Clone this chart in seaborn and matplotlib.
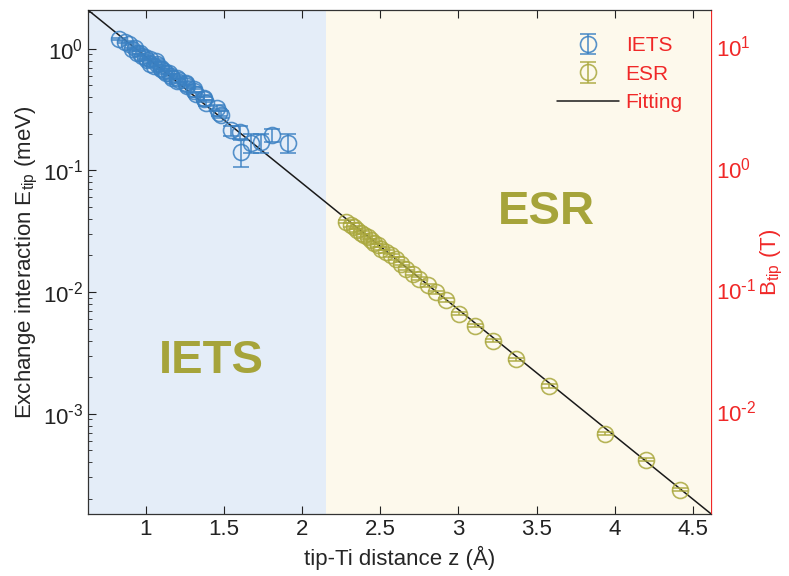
import numpy as np
import pandas as pd
import matplotlib
matplotlib.use("Agg")
import matplotlib.pyplot as plt
import seaborn as sns
from matplotlib.ticker import LogLocator, NullFormatter, FixedLocator, FuncFormatter

# ---------------- data ----------------
iets_z = [0.827, 0.865, 0.891, 0.912, 0.929, 0.944, 0.962, 0.976, 0.998, 1.008,
          1.030, 1.030, 1.062, 1.051, 1.071, 1.094, 1.094, 1.115, 1.126, 1.147,
          1.158, 1.169, 1.201, 1.201, 1.215, 1.254, 1.254, 1.265, 1.308, 1.308,
          1.319, 1.372, 1.372, 1.383, 1.457, 1.468, 1.479,
          1.543, 1.600, 1.607, 1.671, 1.735, 1.810, 1.910]
iets_E = [1.20, 1.14, 1.09, 1.00, 1.02, 0.93, 0.93, 0.875, 0.848, 0.807,
          0.822, 0.748, 0.796, 0.724, 0.752, 0.700, 0.680, 0.658, 0.637, 0.637,
          0.598, 0.579, 0.579, 0.544, 0.550, 0.526, 0.511, 0.495, 0.465, 0.450,
          0.422, 0.396, 0.384, 0.360, 0.327, 0.298, 0.288,
          0.213, 0.205, 0.142, 0.168, 0.170, 0.195, 0.168]
iets_err = [0.02] * 37 + [0.02, 0.025, 0.035, 0.03, 0.03, 0.025, 0.03]

esr_z = [2.280, 2.312, 2.333, 2.354, 2.376, 2.397, 2.419, 2.440, 2.462, 2.483,
         2.504, 2.537, 2.569, 2.601, 2.633, 2.665, 2.707, 2.750, 2.803, 2.857,
         2.923, 3.006, 3.103, 3.220, 3.370, 3.579, 3.936, 4.203, 4.417]
esr_E = [0.0379, 0.0356, 0.0340, 0.0323, 0.0307, 0.0294, 0.0281, 0.0267, 0.0254, 0.0243,
         0.0228, 0.0214, 0.0201, 0.0188, 0.0171, 0.0156, 0.0142, 0.0129, 0.0114, 0.0100,
         0.0086, 0.00662, 0.00531, 0.00399, 0.00281, 0.00169, 0.000687, 0.000419, 0.000237]
esr_err = [e * 0.03 for e in esr_E]

# fit: E = A * exp(-2 kappa z)
fit_A = 9.39        # meV
fit_kappa = 1.196   # 1/Angstrom

# conversion meV -> T for right axis
B_per_meV = 9.5

region_split = 2.15
x_limits = (0.63, 4.615)
y_limits = (1.5e-4, 2.08)
x_ticks = [1, 1.5, 2, 2.5, 3, 3.5, 4, 4.5]
x_ticklabels = ["1", "1.5", "2", "2.5", "3", "3.5", "4", "4.5"]

# ---------------- style ----------------
sns.set_style("ticks")
plt.rcParams["font.family"] = ["Liberation Sans", "DejaVu Sans"]
plt.rcParams["mathtext.default"] = "regular"
plt.rcParams["axes.unicode_minus"] = False

c_iets = "#3a80c2"
c_esr = "#aaa83e"
c_text = "#a6a43a"
c_red = "#f02828"


def pow_fmt(v, pos):
    e = int(round(np.log10(v)))
    if e < 0:
        return "10$^{\\text{-}%d}$" % (-e)
    return "10$^{%d}$" % e


fig = plt.figure(figsize=(7.89, 5.76), dpi=100)
ax = fig.add_axes([0.1115, 0.1076, 0.7895, 0.875])

ax.axvspan(x_limits[0], region_split, color="#e4edf8", lw=0, zorder=0)
ax.axvspan(region_split, x_limits[1], color="#fdf9ec", lw=0, zorder=0)

# fit line via seaborn
fz = np.linspace(x_limits[0], x_limits[1], 200)
fit_df = pd.DataFrame({"z": fz, "E": fit_A * np.exp(-2 * fit_kappa * fz)})
sns.lineplot(data=fit_df, x="z", y="E", ax=ax, color="#1a1a1a", lw=1.1,
             zorder=3, label="Fitting", legend=False)

h_iets = ax.errorbar(iets_z, iets_E, yerr=iets_err, fmt="o", mfc="none", mec=c_iets,
                     ecolor=c_iets, ms=11.5, mew=1.2, elinewidth=1.2, capsize=6,
                     capthick=1.2, alpha=0.85, zorder=4, label="IETS")
h_esr = ax.errorbar(esr_z, esr_E, yerr=esr_err, fmt="o", mfc="none", mec=c_esr,
                    ecolor=c_esr, ms=11.5, mew=1.2, elinewidth=1.2, capsize=6,
                    capthick=1.2, alpha=0.85, zorder=4, label="ESR")

ax.set_yscale("log")
ax.set_xlim(*x_limits)
ax.set_ylim(*y_limits)
ax.xaxis.set_major_locator(FixedLocator(x_ticks))
ax.set_xticklabels(x_ticklabels)
ax.yaxis.set_major_locator(LogLocator(base=10, numticks=10))
ax.yaxis.set_major_formatter(FuncFormatter(pow_fmt))
ax.yaxis.set_minor_locator(LogLocator(base=10, subs=np.arange(2, 10), numticks=20))
ax.yaxis.set_minor_formatter(NullFormatter())

ax.tick_params(axis="both", which="both", direction="in", labelsize=16, colors="#222222")
ax.tick_params(axis="x", which="major", top=True, length=6)
ax.tick_params(axis="y", which="major", length=6, right=False)
ax.tick_params(axis="y", which="minor", length=3, right=False)
for s in ["left", "bottom", "top"]:
    ax.spines[s].set_color("#333333")
    ax.spines[s].set_linewidth(0.9)
ax.spines["right"].set_visible(False)

ax.set_xlabel("tip-Ti distance z (Å)", fontsize=16, labelpad=4)
ax.set_ylabel("Exchange interaction E$_{tip}$ (meV)", fontsize=16, labelpad=2)

ax.text(1.42, 2.7e-3, "IETS", fontsize=34, fontweight="bold",
        color=c_text, ha="center", va="center", zorder=5)
ax.text(3.56, 0.0455, "ESR", fontsize=34, fontweight="bold",
        color=c_text, ha="center", va="center", zorder=5)

# right axis
ax2 = ax.twinx()
ax2.set_yscale("log")
ax2.set_ylim(y_limits[0] * B_per_meV, y_limits[1] * B_per_meV)
ax2.yaxis.set_major_locator(LogLocator(base=10, numticks=10))
ax2.yaxis.set_major_formatter(FuncFormatter(pow_fmt))
ax2.yaxis.set_minor_locator(LogLocator(base=10, subs=np.arange(2, 10), numticks=20))
ax2.yaxis.set_minor_formatter(NullFormatter())
ax2.tick_params(axis="y", which="both", direction="in", colors=c_red, labelsize=16)
ax2.tick_params(axis="y", which="major", length=6)
ax2.tick_params(axis="y", which="minor", length=3)
for s in ["left", "bottom", "top"]:
    ax2.spines[s].set_visible(False)
ax2.spines["right"].set_color(c_red)
ax2.spines["right"].set_linewidth(0.9)
ax2.set_ylabel("B$_{tip}$ (T)", fontsize=16, color=c_red, labelpad=2)

lines = ax.get_lines()
fit_handle = [l for l in lines if l.get_label() == "Fitting"][0]
leg = ax.legend([h_iets, h_esr, fit_handle], ["IETS", "ESR", "Fitting"],
                loc="upper right", bbox_to_anchor=(0.985, 0.985), frameon=False,
                fontsize=15, handlelength=3.0, handletextpad=0.3, labelspacing=0.45)
for t in leg.get_texts():
    t.set_color(c_red)
ax.set_zorder(ax2.get_zorder() + 1)
ax.patch.set_visible(False)

fig.savefig("out.png", dpi=100)
